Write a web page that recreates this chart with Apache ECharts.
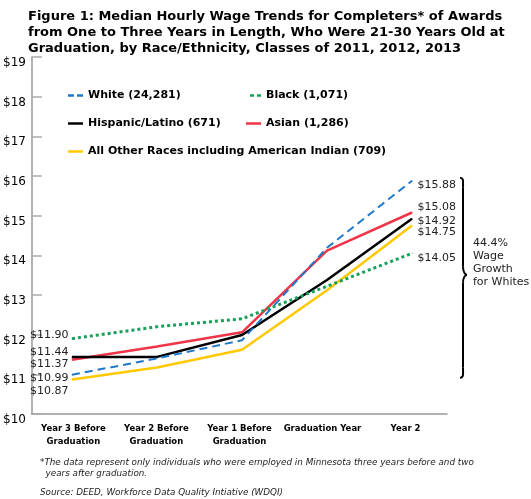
<!DOCTYPE html>
<html>
<head>
<meta charset="utf-8">
<script src="https://cdn.jsdelivr.net/npm/echarts@6/dist/echarts.min.js"></script>
<style>
html,body{margin:0;padding:0;background:#fff;}
#main{width:531px;height:499px;}
</style>
</head>
<body>
<div id="main"></div>
<script>
const categories = ['Year 3 Before\nGraduation', 'Year 2 Before\nGraduation', 'Year 1 Before\nGraduation', 'Graduation Year', 'Year 2'];
const seriesNames = ['White (24,281)', 'Black (1,071)', 'Hispanic/Latino (671)', 'Asian (1,286)', 'All Other Races including American Indian (709)'];
const white = [10.99, 11.40, 11.86, 14.19, 15.88];
const black = [11.90, 12.20, 12.40, 13.22, 14.05];
const hispanic = [11.44, 11.44, 11.99, 13.38, 14.92];
const asian = [11.37, 11.70, 12.06, 14.12, 15.08];
const other = [10.87, 11.17, 11.62, 13.12, 14.75];
const yMin = 10, yMax = 19, yStep = 1;
const growthText = '44.4%\nWage\nGrowth\nfor Whites';

const FONT = 'DejaVu Sans';
const chart = echarts.init(document.getElementById('main'), null, {renderer: 'canvas'});

const styles = [
  {color: '#1f78c8', type: [8, 5], width: 2, lo: [0, 3], ro: [0, 4.5],
   icon: 'path://M0,0h6v2.5h-6z M9,0h6v2.5h-6z', iw: 15, ih: 2.5, pos: [68, 90]},
  {color: '#17a05a', type: [3, 3], width: 3, lo: [0, -3], ro: [0, 4.5],
   icon: 'path://M0,0h4v2.5h-4z M7,0h4v2.5h-4z', iw: 11, ih: 2.5, pos: [250, 90]},
  {color: '#000000', type: 'solid', width: 2.5, lo: [0, -5], ro: [0, 2],
   icon: 'rect', iw: 15, ih: 2.5, pos: [68, 118]},
  {color: '#ef3547', type: 'solid', width: 2.5, lo: [0, 4], ro: [0, -5.5],
   icon: 'rect', iw: 15, ih: 2.5, pos: [246, 118]},
  {color: '#ffc800', type: 'solid', width: 2.5, lo: [0, 12], ro: [0, 7],
   icon: 'rect', iw: 15, ih: 2.5, pos: [68, 146]}
];
const allData = [white, black, hispanic, asian, other];

const labelFmt = p => '$' + p.value.toFixed(2);
const labelBase = {show: true, formatter: labelFmt, fontFamily: FONT, fontSize: 11, color: '#222'};
const series = allData.map((vals, si) => {
  const st = styles[si];
  return {
    name: seriesNames[si],
    type: 'line',
    xAxisIndex: 1, yAxisIndex: 1,
    symbol: 'circle', symbolSize: 1, showSymbol: true,
    lineStyle: {color: st.color, type: st.type, width: st.width, cap: 'butt'},
    itemStyle: {color: st.color},
    emphasis: {disabled: true},
    label: {show: false},
    z: 5 - si,
    data: vals.map((v, i) => {
      if (i === 0) return {value: v, label: Object.assign({}, labelBase, {position: 'left', distance: 3, offset: st.lo})};
      if (i === vals.length - 1) return {value: v, label: Object.assign({}, labelBase, {position: 'right', distance: 5, offset: st.ro})};
      return v;
    })
  };
});

const legends = seriesNames.map((n, i) => ({
  data: [{name: n, icon: styles[i].icon, itemStyle: {color: styles[i].color}}],
  left: styles[i].pos[0], top: styles[i].pos[1], padding: 0,
  itemWidth: styles[i].iw, itemHeight: styles[i].ih, selectedMode: false,
  textStyle: {fontFamily: FONT, fontSize: 11, fontWeight: 'bold', color: '#000'}
}));

chart.setOption({
  animation: false,
  backgroundColor: '#fff',
  title: [
    {text: 'Figure 1: Median Hourly Wage Trends for Completers* of Awards\nfrom One to Three Years in Length, Who Were 21-30 Years Old at\nGraduation, by Race/Ethnicity, Classes of 2011, 2012, 2013',
     left: 28, top: 9, padding: 0,
     textStyle: {fontFamily: FONT, fontSize: 13, fontWeight: 'bold', color: '#000', lineHeight: 16}},
    {text: '*The data represent only individuals who were employed in Minnesota three years before and two\n  years after graduation.',
     left: 40, top: 457, padding: 0,
     textStyle: {fontFamily: FONT, fontSize: 8.8, fontStyle: 'italic', fontWeight: 'normal', color: '#222', lineHeight: 11}},
    {text: 'Source: DEED, Workforce Data Quality Intiative (WDQI)',
     left: 40, top: 488, padding: 0,
     textStyle: {fontFamily: FONT, fontSize: 8.8, fontStyle: 'italic', fontWeight: 'normal', color: '#222'}}
  ],
  legend: legends,
  grid: [
    {left: 29, top: 57, width: 418, height: 357},
    {left: 72, top: 57, width: 340, height: 357}
  ],
  xAxis: [
    {type: 'category', gridIndex: 0, data: categories, boundaryGap: true,
     axisLine: {lineStyle: {color: '#999', width: 1.5}},
     axisTick: {inside: true, length: 8, lineStyle: {color: '#aaa', width: 1.5}},
     axisLabel: {interval: 0, margin: 8, fontFamily: FONT, fontSize: 8.5, fontWeight: 'bold', color: '#000', lineHeight: 13}},
    {type: 'category', gridIndex: 1, data: categories, boundaryGap: false, show: false}
  ],
  yAxis: [
    {type: 'value', gridIndex: 0, min: yMin, max: yMax, interval: yStep,
     splitLine: {show: false},
     axisLine: {show: true, lineStyle: {color: '#999', width: 1.5}},
     axisTick: {show: true, inside: true, length: 10, lineStyle: {color: '#aaa', width: 1.5}},
     axisLabel: {formatter: v => '$' + v, margin: 6, verticalAlign: 'top', fontFamily: FONT, fontSize: 12, color: '#000'}},
    {type: 'value', gridIndex: 1, min: yMin, max: yMax, interval: yStep, show: false, splitLine: {show: false}}
  ],
  series: series
});

// Brace annotation spanning White's growth, positioned from the data
const pTop = chart.convertToPixel({seriesIndex: 0}, [categories.length - 1, white[white.length - 1]]);
const pBot = chart.convertToPixel({seriesIndex: 0}, [0, white[0]]);
const bx = 460, bTop = pTop[1] - 3, bBot = pBot[1] + 3, bMid = (bTop + bBot) / 2 - 3;
const bStyle = {stroke: '#000', lineWidth: 2, fill: null};
chart.setOption({
  graphic: [
    {type: 'bezierCurve', shape: {x1: bx, y1: bTop, cpx1: bx + 4, cpy1: bTop, cpx2: bx + 3, cpy2: bTop + 4, x2: bx + 3, y2: bTop + 10}, style: bStyle},
    {type: 'line', shape: {x1: bx + 3, y1: bTop + 10, x2: bx + 3, y2: bMid - 8}, style: bStyle},
    {type: 'bezierCurve', shape: {x1: bx + 3, y1: bMid - 8, cpx1: bx + 3, cpy1: bMid - 3, cpx2: bx + 5, cpy2: bMid, x2: bx + 7, y2: bMid}, style: bStyle},
    {type: 'bezierCurve', shape: {x1: bx + 7, y1: bMid, cpx1: bx + 5, cpy1: bMid, cpx2: bx + 3, cpy2: bMid + 3, x2: bx + 3, y2: bMid + 8}, style: bStyle},
    {type: 'line', shape: {x1: bx + 3, y1: bMid + 8, x2: bx + 3, y2: bBot - 10}, style: bStyle},
    {type: 'bezierCurve', shape: {x1: bx + 3, y1: bBot - 10, cpx1: bx + 3, cpy1: bBot - 4, cpx2: bx + 4, cpy2: bBot, x2: bx, y2: bBot}, style: bStyle},
    {type: 'text', left: 473, top: 236, style: {text: growthText, fontFamily: FONT, fontSize: 11, lineHeight: 13.3, fill: '#222'}}
  ]
});
</script>
</body>
</html>
